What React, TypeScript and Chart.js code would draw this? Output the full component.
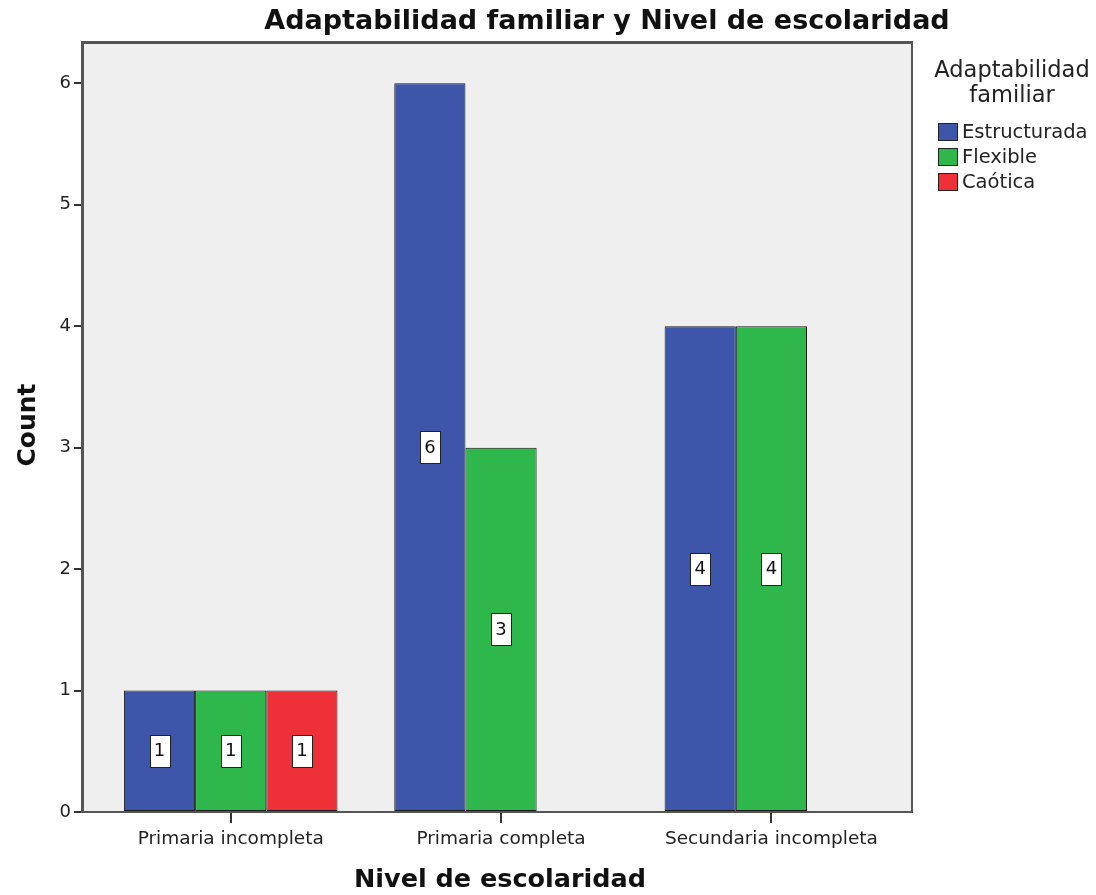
import React, { useEffect, useRef } from "react";
import { Chart, registerables } from "chart.js";

Chart.register(...registerables);

const categories = ["Primaria incompleta", "Primaria completa", "Secundaria incompleta"];
const seriesNames = ["Estructurada", "Flexible", "Caótica"];
const estructurada = [1, 6, 4];
const flexible = [1, 3, 4];
const caotica: (number | null)[] = [1, null, null];
const yTicks = [0, 1, 2, 3, 4, 5, 6];
const colors = ["#3E56AA", "#2EB74A", "#EE3039"];

const FONT = "'DejaVu Sans', Verdana, sans-serif";

const decorPlugin = {
  id: "decor",
  beforeDraw(chart: any) {
    const { ctx, chartArea: a } = chart;
    ctx.save();
    ctx.fillStyle = "#EFEFEF";
    ctx.fillRect(a.left, a.top, a.right - a.left, a.bottom - a.top);
    ctx.restore();
  },
  afterDatasetsDraw(chart: any) {
    const { ctx } = chart;
    ctx.save();
    chart.data.datasets.forEach((ds: any, di: number) => {
      const meta = chart.getDatasetMeta(di);
      meta.data.forEach((bar: any, i: number) => {
        const v = ds.data[i].y;
        if (v === null || v === undefined) return;
        const cx = bar.x;
        const cy = (bar.y + bar.base) / 2;
        const w = 20, h = 32;
        ctx.fillStyle = "#FFFFFF";
        ctx.fillRect(Math.round(cx - w / 2), Math.round(cy - h / 2), w, h);
        ctx.strokeStyle = "#222";
        ctx.lineWidth = 1;
        ctx.strokeRect(Math.round(cx - w / 2) + 0.5, Math.round(cy - h / 2) + 0.5, w, h);
        ctx.fillStyle = "#111";
        ctx.font = `18px ${FONT}`;
        ctx.textAlign = "center";
        ctx.textBaseline = "middle";
        ctx.fillText(String(v), cx, cy + 1);
      });
    });
    ctx.restore();
  },
  afterDraw(chart: any) {
    const { ctx, chartArea: a } = chart;
    ctx.save();
    // frame
    ctx.strokeStyle = "#555";
    ctx.lineWidth = 2;
    ctx.strokeRect(a.left, a.top, a.right - a.left, a.bottom - a.top);
    ctx.fillStyle = "#555";
    ctx.fillRect(a.left - 1, a.top - 1, 3, a.bottom - a.top + 2);
    ctx.fillRect(a.left - 1, a.top - 1, a.right - a.left + 2, 3);

    // title
    ctx.fillStyle = "#111";
    ctx.textAlign = "center";
    ctx.textBaseline = "middle";
    ctx.font = `bold 27px ${FONT}`;
    ctx.fillText("Adaptabilidad familiar y Nivel de escolaridad", 607, 22);

    // axis titles
    ctx.font = `bold 25.5px ${FONT}`;
    ctx.fillText("Nivel de escolaridad", 500, 880);
    ctx.save();
    ctx.translate(28, 425);
    ctx.rotate(-Math.PI / 2);
    ctx.font = `bold 25px ${FONT}`;
    ctx.fillText("Count", 0, 0);
    ctx.restore();

    // legend
    ctx.fillStyle = "#222";
    ctx.font = `22.5px ${FONT}`;
    ctx.fillText("Adaptabilidad", 1012, 71);
    ctx.fillText("familiar", 1012, 96);
    ctx.font = `19.5px ${FONT}`;
    ctx.textAlign = "left";
    seriesNames.forEach((name, i) => {
      const y = 132 + i * 25;
      ctx.fillStyle = colors[i];
      ctx.fillRect(938, y - 9, 20, 18);
      ctx.strokeStyle = "#222";
      ctx.lineWidth = 1;
      ctx.strokeRect(938.5, y - 8.5, 19, 17);
      ctx.fillStyle = "#222";
      ctx.fillText(name, 962, y + 1);
    });
    ctx.restore();
  },
};

export default function App() {
  const ref = useRef<HTMLCanvasElement>(null);
  useEffect(() => {
    if (!ref.current) return;
    const series = [estructurada, flexible, caotica];
    const chart = new Chart(ref.current, {
      type: "bar",
      data: {
        datasets: series.map((vals, si) => ({
          label: seriesNames[si],
          data: vals.map((v, i) => ({ x: i, y: v })) as any,
          backgroundColor: colors[si],
          borderColor: "#1a1a1a",
          borderWidth: 1,
          borderSkipped: false,
          categoryPercentage: 0.79,
          barPercentage: 1,
        })),
      },
      options: {
        responsive: false,
        animation: false,
        layout: { padding: { top: 42, right: 184, left: 0, bottom: 0 } },
        plugins: {
          legend: { display: false },
          title: { display: false },
          tooltip: { enabled: false },
        },
        scales: {
          x: {
            type: "linear",
            min: -0.55,
            max: 2.52,
            offset: false,
            afterBuildTicks: (scale: any) => {
              scale.ticks = categories.map((_, i) => ({ value: i }));
            },
            afterFit: (scale: any) => {
              scale.height = 83;
            },
            ticks: {
              autoSkip: false,
              maxRotation: 0,
              padding: 5,
              color: "#222",
              font: { size: 18.5, family: FONT },
              callback: (v: any) => categories[v as number] ?? "",
            },
            grid: { drawOnChartArea: false, offset: false, tickLength: 11, color: "#333", lineWidth: 2 },
            border: { display: true, color: "#555", width: 2 },
          },
          y: {
            min: 0,
            max: 6.34,
            afterBuildTicks: (scale: any) => {
              scale.ticks = yTicks.map((v) => ({ value: v }));
            },
            afterFit: (scale: any) => {
              scale.width = 82;
            },
            ticks: {
              padding: 3,
              color: "#222",
              font: { size: 18, family: FONT },
            },
            grid: { drawOnChartArea: false, tickLength: 8, color: "#333", lineWidth: 2 },
            border: { display: true, color: "#555", width: 2 },
          },
        },
      },
      plugins: [decorPlugin],
    });
    return () => chart.destroy();
  }, []);
  return (
    <div style={{ position: "fixed", left: 0, top: 0, width: 1096, height: 895, background: "#fff" }}>
      <canvas ref={ref} width={1096} height={895} style={{ width: 1096, height: 895 }} />
    </div>
  );
}
